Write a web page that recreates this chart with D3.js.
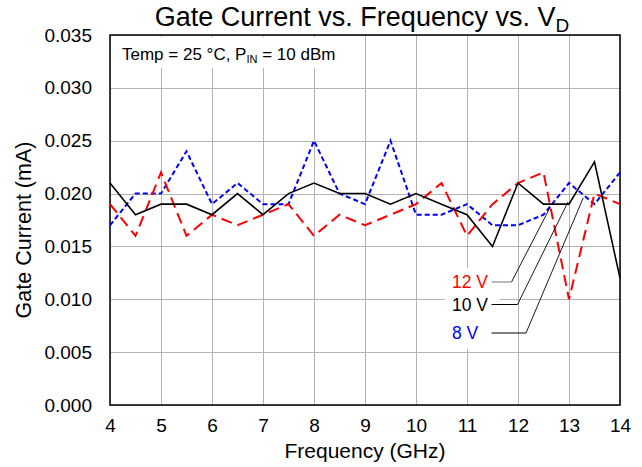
<!DOCTYPE html>
<html><head><meta charset="utf-8">
<script src="https://cdn.jsdelivr.net/npm/d3@7"></script>
<style>body{margin:0;background:#fff}svg{display:block;font-family:"Liberation Sans",Arial,sans-serif}</style>
</head><body>
<svg id="c" width="642" height="467"></svg>
<script>
const freq = [4,4.5,5,5.5,6,6.5,7,7.5,8,8.5,9,9.5,10,10.5,11,11.5,12,12.5,13,13.5,14];
const v12 = [0.019,0.016,0.022,0.016,0.018,0.017,0.018,0.019,0.016,0.018,0.017,0.018,0.019,0.021,0.016,0.019,0.021,0.022,0.010,0.020,0.019];
const v10 = [0.021,0.018,0.019,0.019,0.018,0.020,0.018,0.020,0.021,0.020,0.020,0.019,0.020,0.019,0.018,0.015,0.021,0.019,0.019,0.023,0.012];
const v8  = [0.017,0.020,0.020,0.024,0.019,0.021,0.019,0.019,0.025,0.020,0.019,0.025,0.018,0.018,0.019,0.017,0.017,0.018,0.021,0.019,0.022];
const xTicks = [4,5,6,7,8,9,10,11,12,13,14];
const yTicks = [0,0.005,0.010,0.015,0.020,0.025,0.030,0.035];
const seriesNames = ["12 V","10 V","8 V"];
// leader anchor points (data coords) for labels
const anchorF = [12.63, 12.98, 13.28];
const anchorI = [0.0187, 0.0192, 0.0196];

const svg = d3.select("#c");
const L=110,R=620,T=35,B=405;
const x = d3.scaleLinear().domain([4,14]).range([L,R]);
const y = d3.scaleLinear().domain([0,0.035]).range([B,T]);
const grid="#b4b4b4";
const FF="Liberation Sans, Arial, sans-serif";

// gridlines
svg.append("g").selectAll("line").data(xTicks).join("line")
  .attr("x1",d=>Math.round(x(d))+0.5).attr("x2",d=>Math.round(x(d))+0.5).attr("y1",T).attr("y2",B)
  .attr("stroke",grid).attr("stroke-width",1);
svg.append("g").selectAll("line").data(yTicks).join("line")
  .attr("x1",L).attr("x2",R).attr("y1",d=>Math.round(y(d))+0.5).attr("y2",d=>Math.round(y(d))+0.5)
  .attr("stroke",grid).attr("stroke-width",1);

// white boxes behind text
svg.append("rect").attr("x",L+2).attr("y",T+2).attr("width",228).attr("height",31).attr("fill","#fff");
svg.append("rect").attr("x",445).attr("y",268).attr("width",55).attr("height",81).attr("fill","#fff");

// axes
const xAxis = svg.append("g").attr("transform",`translate(0,${B})`)
  .call(d3.axisBottom(x).tickValues(xTicks).tickSize(0).tickPadding(14).tickFormat(d3.format("d")));
const yAxis = svg.append("g").attr("transform",`translate(${L},0)`)
  .call(d3.axisLeft(y).tickValues(yTicks).tickSize(0).tickPadding(18).tickFormat(d3.format(".3f")));
[xAxis,yAxis].forEach(a=>{a.attr("font-family",FF).attr("font-size",19);a.select(".domain").remove();a.selectAll("text").attr("fill","#000");});

// frame
svg.append("rect").attr("x",L).attr("y",T).attr("width",R-L).attr("height",B-T)
  .attr("fill","none").attr("stroke","#000").attr("stroke-width",1.5);

// series
const line = vals => d3.line().x((d,i)=>x(freq[i])).y(d=>y(d))(vals);
svg.append("path").attr("d",line(v8)).attr("fill","none").attr("stroke","#0000ff").attr("stroke-width",2).attr("stroke-dasharray","5,3");
svg.append("path").attr("d",line(v12)).attr("fill","none").attr("stroke","#ff0000").attr("stroke-width",2).attr("stroke-dasharray","11,6");
svg.append("path").attr("d",line(v10)).attr("fill","none").attr("stroke","#000").attr("stroke-width",1.6);

// labels and leaders
const labCol = ["#ff0000","#000","#0000ff"];
const labY = [282,304.5,333];
const hEnd = [511.5,517.5,526];
const hCol = ["#777","#000","#000"];
seriesNames.forEach((n,i)=>{
  svg.append("text").attr("x",452).attr("y",labY[i]+6).attr("font-size",17.5).attr("fill",labCol[i]).text(n);
  svg.append("line").attr("x1",491.5).attr("x2",hEnd[i]).attr("y1",labY[i]).attr("y2",labY[i]).attr("stroke",hCol[i]).attr("stroke-width",1);
  svg.append("line").attr("x1",hEnd[i]).attr("y1",labY[i]).attr("x2",x(anchorF[i])).attr("y2",y(anchorI[i])).attr("stroke","#000").attr("stroke-width",0.9);
});

// annotation
const ann = svg.append("text").attr("x",122).attr("y",60).attr("font-size",17).attr("fill","#000");
ann.append("tspan").text("Temp = 25 °C, P");
ann.append("tspan").attr("font-size",11).attr("dy",3).text("IN");
ann.append("tspan").attr("dy",-3).text(" = 10 dBm");

// title
const t = svg.append("text").attr("x",362).attr("y",26).attr("text-anchor","middle").attr("font-size",27).attr("fill","#000");
t.append("tspan").text("Gate Current vs. Frequency vs. V");
t.append("tspan").attr("font-size",19).attr("dy",6).text("D");

// axis titles
svg.append("text").attr("x",365).attr("y",458).attr("text-anchor","middle").attr("font-size",21).text("Frequency (GHz)");
svg.append("text").attr("transform","translate(31,230) rotate(-90)").attr("text-anchor","middle").attr("font-size",21.5).text("Gate Current (mA)");
</script>
</body></html>
